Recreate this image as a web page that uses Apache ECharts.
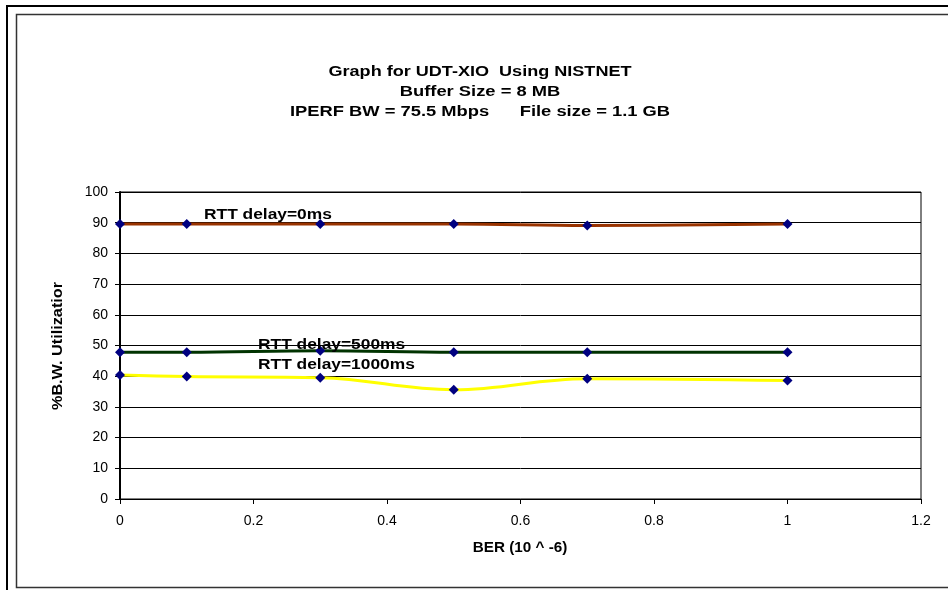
<!DOCTYPE html>
<html>
<head>
<meta charset="utf-8">
<script src="https://cdn.jsdelivr.net/npm/echarts@6/dist/echarts.min.js"></script>
<style>html,body{margin:0;padding:0;background:#fff;}#c{width:948px;height:590px;}</style>
</head>
<body>
<div id="c"></div>
<script>
var berValues = [0, 0.1, 0.3, 0.5, 0.7, 1];
var rtt0ms = [89.6, 89.6, 89.6, 89.6, 89.1, 89.6];
var rtt500ms = [47.8, 47.8, 48.3, 47.8, 47.8, 47.8];
var rtt1000ms = [40.4, 39.9, 39.5, 35.6, 39.2, 38.6];
var seriesNames = ['RTT delay=0ms', 'RTT delay=500ms', 'RTT delay=1000ms'];
var xTicks = ['0', '0.2', '0.4', '0.6', '0.8', '1', '1.2'];
var titleLines = ['Graph for UDT-XIO  Using NISTNET', 'Buffer Size = 8 MB', 'IPERF BW = 75.5 Mbps      File size = 1.1 GB'];
var xAxisName = 'BER (10 ^ -6)';
var yAxisName = '%B.W. Utilizatior';

function pairs(vals){ return berValues.map(function(x,i){ return [x, vals[i]]; }); }

var chart = echarts.init(document.getElementById('c'), null, {renderer:'canvas'});
var font = "'Liberation Sans', Arial, sans-serif";
var boldFont = "bold 14px 'Liberation Sans', Arial, sans-serif";
function mkSeries(name, vals, color, w){
  return {
    name: name, type: 'line', data: pairs(vals), smooth: 0.4,
    lineStyle: {color: color, width: w},
    symbol: 'diamond', symbolSize: 10, showSymbol: true,
    itemStyle: {color: '#000080', borderWidth: 0},
    emphasis: {disabled: true}, animation: false, z: 3
  };
}
function txt(text, x, y, sx, align, rot){
  return {type: 'text', x: x, y: y, scaleX: sx, scaleY: 1, rotation: rot || 0,
    style: {text: text, x: 0, y: 0, font: boldFont, fill: '#000', align: align || 'center', verticalAlign: 'middle'},
    silent: true, z: 100};
}
chart.setOption({
  animation: false,
  backgroundColor: '#fff',
  grid: {left: 120, right: 27, top: 192, bottom: 91, show: true, borderColor: '#000', borderWidth: 1, backgroundColor: '#fff'},
  xAxis: {
    type: 'value', min: 0, max: 1.2, interval: 0.2,
    axisLine: {lineStyle: {color: '#000', width: 1}},
    axisTick: {show: true, inside: false, length: 5, lineStyle: {color: '#000'}},
    axisLabel: {fontFamily: font, fontSize: 14, color: '#000', margin: 15,
      formatter: function(v){ var i = Math.round(v/0.2); return xTicks[i] !== undefined ? xTicks[i] : ''; }},
    splitLine: {show: false}
  },
  yAxis: {
    type: 'value', min: 0, max: 100, interval: 10,
    axisLine: {show: true, lineStyle: {color: '#000', width: 2}},
    axisTick: {show: true, inside: false, length: 5, lineStyle: {color: '#000'}},
    axisLabel: {fontFamily: font, fontSize: 14, color: '#000', margin: 12},
    splitLine: {show: true, lineStyle: {color: '#000', width: 1}}
  },
  series: [
    mkSeries(seriesNames[0], rtt0ms, '#993300', 3),
    mkSeries(seriesNames[1], rtt500ms, '#003300', 3),
    mkSeries(seriesNames[2], rtt1000ms, '#FFFF00', 3)
  ],
  graphic: [
    {type: 'rect', shape: {x: 7, y: 6, width: 960, height: 600}, style: {fill: 'none', stroke: '#000', lineWidth: 2}, silent: true, z: 100},
    {type: 'rect', shape: {x: 16.5, y: 14.5, width: 960, height: 573}, style: {fill: 'none', stroke: '#333', lineWidth: 1.5}, silent: true, z: 100},
    txt(titleLines[0], 480, 72, 1.29),
    txt(titleLines[1], 480, 92, 1.31),
    txt(titleLines[2], 480, 112, 1.31),
    txt(seriesNames[0], 204, 215, 1.24, 'left'),
    txt(seriesNames[1], 258, 345, 1.24, 'left'),
    txt(seriesNames[2], 258, 365, 1.24, 'left'),
    txt(xAxisName, 520, 548, 1.09),
    txt(yAxisName, 58, 346, 1.16, 'center', Math.PI/2)
  ]
});
</script>
</body>
</html>
